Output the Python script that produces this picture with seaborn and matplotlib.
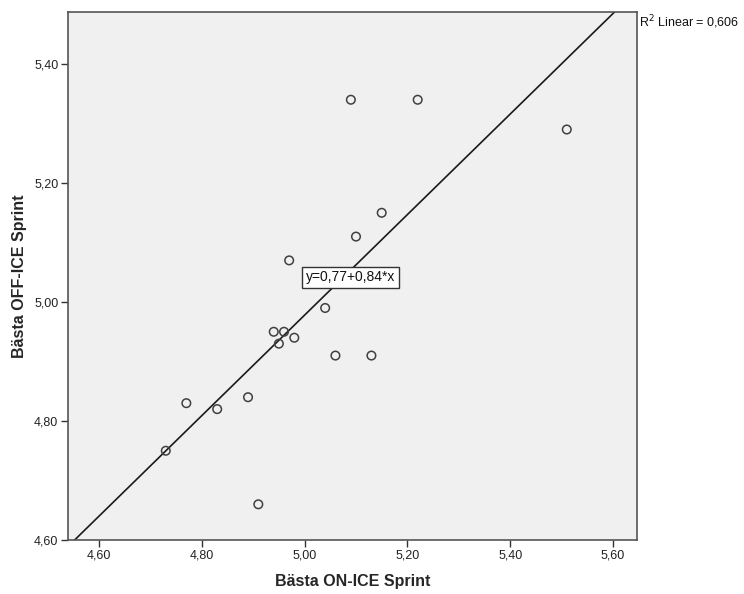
import matplotlib
matplotlib.use("Agg")
import matplotlib.pyplot as plt
import seaborn as sns
import numpy as np
import pandas as pd

on_ice = [4.73, 4.77, 4.83, 4.89, 4.91, 4.94, 4.95, 4.96, 4.98, 4.97,
          5.04, 5.06, 5.13, 5.10, 5.15, 5.09, 5.22, 5.51]
off_ice = [4.75, 4.83, 4.82, 4.84, 4.66, 4.95, 4.93, 4.95, 4.94, 5.07,
           4.99, 4.91, 4.91, 5.11, 5.15, 5.34, 5.34, 5.29]
intercept = 0.753
slope = 0.845
xticks = [4.60, 4.80, 5.00, 5.20, 5.40, 5.60]
yticks = [4.60, 4.80, 5.00, 5.20, 5.40]
eq_label = "y=0,77+0,84*x"
r2_label = "R$^2$ Linear = 0,606"

df = pd.DataFrame({"on": on_ice, "off": off_ice})

sns.set_style("white")
plt.rcParams['font.family'] = ['Liberation Sans', 'DejaVu Sans']

fig = plt.figure(figsize=(7.44, 5.94), dpi=100)
ax = fig.add_axes([68/744, 54/594, (637-68)/744, (540-12)/594])
ax.set_facecolor("#f0f0f0")

xlim = (4.5398, 5.6466)
ylim = (4.60, 5.4875)
xs = np.array(xlim)
ax.plot(xs, intercept + slope * xs, color="#1a1a1a", lw=1.2, zorder=2)

sns.scatterplot(data=df, x="on", y="off", ax=ax, marker="o", s=38,
                facecolor="none", edgecolor="#404040", linewidth=1.1, zorder=3)

ax.set_xlim(xlim)
ax.set_ylim(ylim)
ax.set_xticks(xticks)
ax.set_yticks(yticks)
ax.set_xticklabels([f"{v:.2f}".replace(".", ",") for v in xticks])
ax.set_yticklabels([f"{v:.2f}".replace(".", ",") for v in yticks])
ax.tick_params(axis="both", direction="out", length=5, width=1, color="#333333",
               labelsize=9, labelcolor="#222222", pad=2, bottom=True, left=True)
for sp in ax.spines.values():
    sp.set_color("#555555")
    sp.set_linewidth(1.2)

ax.set_xlabel("Bästa ON-ICE Sprint", fontsize=11.5, fontweight="bold", labelpad=9)
ax.set_ylabel("Bästa OFF-ICE Sprint", fontsize=11.5, fontweight="bold", labelpad=5)

ax.text(5.089, 5.042, eq_label, ha="center", va="center", fontsize=10,
        color="#111111", zorder=4,
        bbox=dict(boxstyle="square,pad=0.25", facecolor="white", edgecolor="#333333", linewidth=1))
fig.text(639/744, 1 - 22/594, r2_label, ha="left", va="center", fontsize=9, color="#111111")

fig.savefig("out.png", dpi=100, facecolor="white")
